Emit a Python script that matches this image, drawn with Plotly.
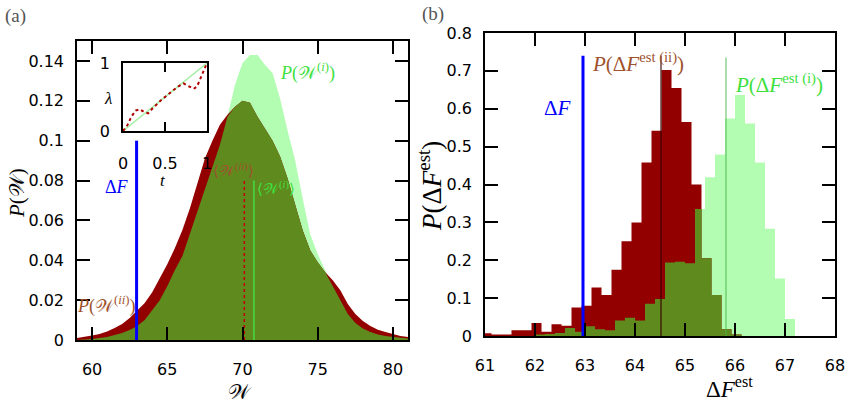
import numpy as np
import plotly.graph_objects as go

# ---------------- data, panel (a) ----------------
w_grid = [59.0, 59.5, 60.0, 60.5, 61.0, 61.5, 62.0, 62.5, 63.0, 63.5, 64.0, 64.5,
          65.0, 65.5, 66.0, 66.5, 67.0, 67.5, 68.0, 68.5, 69.0, 69.5, 70.0, 70.5,
          71.0, 71.5, 72.0, 72.5, 73.0, 73.5, 74.0, 74.5, 75.0, 75.5, 76.0, 76.5,
          77.0, 77.5, 78.0, 78.5, 79.0, 79.5, 80.0, 80.5, 81.0]
p_w_ii = [0.001, 0.0015, 0.0022, 0.003, 0.0043, 0.006, 0.008, 0.011, 0.015, 0.0185, 0.024, 0.031,
          0.038, 0.046, 0.055, 0.066, 0.078, 0.091, 0.100, 0.108, 0.113, 0.117, 0.120, 0.119,
          0.112, 0.106, 0.100, 0.092, 0.081, 0.068, 0.055, 0.045, 0.039, 0.034, 0.030, 0.025,
          0.018, 0.013, 0.0095, 0.007, 0.0052, 0.004, 0.003, 0.002, 0.0015]
p_w_i = [0.0, 0.0002, 0.0005, 0.001, 0.0015, 0.0025, 0.0035, 0.005, 0.007, 0.010, 0.015, 0.020,
         0.027, 0.035, 0.042, 0.053, 0.065, 0.075, 0.086, 0.098, 0.112, 0.128, 0.139, 0.143,
         0.143, 0.138, 0.134, 0.121, 0.105, 0.090, 0.071, 0.053, 0.043, 0.035, 0.027, 0.020,
         0.013, 0.0085, 0.0058, 0.004, 0.0028, 0.002, 0.0015, 0.001, 0.0007]

delta_f = 62.96
mean_w_ii, mean_w_i = 70.12, 70.76

# inset: protocols lambda(t)
t_lin = [0.0, 1.0]
lam_lin = [0.0, 1.0]
t_wig = [0.0, 0.05, 0.1, 0.15, 0.2, 0.25, 0.3, 0.35, 0.45, 0.55, 0.65, 0.72, 0.78, 0.84, 0.88, 0.93, 0.97, 1.0]
lam_wig = [0.0, 0.08, 0.21, 0.30, 0.32, 0.28, 0.26, 0.33, 0.45, 0.55, 0.65, 0.70, 0.66, 0.62, 0.65, 0.79, 0.92, 1.0]

# ---------------- data, panel (b) ----------------
red_left = [60.93, 61.13, 61.33, 61.53, 61.73, 61.93, 62.13, 62.33, 62.53, 62.73, 62.93, 63.13, 63.33,
            63.53, 63.73, 63.93, 64.13, 64.33, 64.53, 64.73, 64.93, 65.13, 65.33, 65.53, 65.73, 65.93]
red_h = [0.007, 0.004, 0.004, 0.015, 0.015, 0.034, 0.011, 0.031, 0.027, 0.075, 0.080, 0.128, 0.108,
         0.175, 0.250, 0.300, 0.458, 0.542, 0.702, 0.655, 0.565, 0.400, 0.205, 0.108, 0.018, 0.004]
green_left = [62.0, 62.2, 62.4, 62.6, 62.8, 63.0, 63.2, 63.4, 63.6, 63.8, 64.0, 64.2, 64.4,
              64.6, 64.8, 65.0, 65.2, 65.4, 65.6, 65.8, 66.0, 66.2, 66.4, 66.6, 66.8, 67.0]
green_h = [0.004, 0.005, 0.008, 0.021, 0.011, 0.026, 0.018, 0.015, 0.041, 0.048, 0.041, 0.085, 0.098,
           0.194, 0.196, 0.192, 0.335, 0.419, 0.479, 0.574, 0.636, 0.561, 0.458, 0.283, 0.152, 0.045]
bin_w = 0.2
mean_f_ii, mean_f_i = 64.52, 65.82

RED = "#930000"
OLIVE = "#5f8a1e"
LGREEN = "#b3fdb3"
BROWN = "#a0522d"
GTXT = "#3ee03e"
BLUE = "#0000ff"
W, H = 863, 404


def step_xy(left, h):
    x = list(left) + [left[-1] + bin_w]
    y = list(h) + [0.0]
    return x, y


def overlap_steps(l1, h1, l2, h2):
    # overlap of two step histograms with different bin edges
    edges = sorted(set([round(v, 3) for v in list(l1) + [l1[-1] + bin_w] + list(l2) + [l2[-1] + bin_w]]))

    def val(left, h, x):
        for a, v in zip(left, h):
            if a <= x < a + bin_w:
                return v
        return 0.0
    ys = []
    for a, b in zip(edges[:-1], edges[1:]):
        m = 0.5 * (a + b)
        ys.append(min(val(l1, h1, m), val(l2, h2, m)))
    return edges, ys + [0.0]


fig = go.Figure()

# panel (a)
fig.add_trace(go.Scatter(x=w_grid, y=p_w_i, fill="tozeroy", fillcolor=LGREEN, mode="lines",
                         line=dict(width=0), xaxis="x", yaxis="y"))
fig.add_trace(go.Scatter(x=w_grid, y=p_w_ii, fill="tozeroy", fillcolor=RED, mode="lines",
                         line=dict(width=0), xaxis="x", yaxis="y"))
fig.add_trace(go.Scatter(x=w_grid, y=np.minimum(p_w_i, p_w_ii), fill="tozeroy", fillcolor=OLIVE,
                         mode="lines", line=dict(width=0), xaxis="x", yaxis="y"))
fig.add_trace(go.Scatter(x=[delta_f, delta_f], y=[0, 0.1], mode="lines",
                         line=dict(color=BLUE, width=3), xaxis="x", yaxis="y"))
fig.add_trace(go.Scatter(x=[mean_w_ii, mean_w_ii], y=[0, 0.08], mode="lines",
                         line=dict(color="#c00000", width=1.5, dash="dot"), xaxis="x", yaxis="y"))
fig.add_trace(go.Scatter(x=[mean_w_i, mean_w_i], y=[0, 0.08], mode="lines",
                         line=dict(color="#44dd44", width=1.5), xaxis="x", yaxis="y"))

# inset
fig.add_trace(go.Scatter(x=t_lin, y=lam_lin, mode="lines", line=dict(color="#a8f0a8", width=1.5),
                         xaxis="x3", yaxis="y3"))
fig.add_trace(go.Scatter(x=t_wig, y=lam_wig, mode="lines", line=dict(color="#b00000", width=2, dash="dot"),
                         xaxis="x3", yaxis="y3"))

# panel (b)
gx, gy = step_xy(green_left, green_h)
rx, ry = step_xy(red_left, red_h)
ox, oy = overlap_steps(red_left, red_h, green_left, green_h)
fig.add_trace(go.Scatter(x=gx, y=gy, line_shape="hv", fill="tozeroy", fillcolor=LGREEN, mode="lines",
                         line=dict(width=0), xaxis="x2", yaxis="y2"))
fig.add_trace(go.Scatter(x=rx, y=ry, line_shape="hv", fill="tozeroy", fillcolor=RED, mode="lines",
                         line=dict(width=0), xaxis="x2", yaxis="y2"))
fig.add_trace(go.Scatter(x=ox, y=oy, line_shape="hv", fill="tozeroy", fillcolor=OLIVE, mode="lines",
                         line=dict(width=0), xaxis="x2", yaxis="y2"))
fig.add_trace(go.Scatter(x=[delta_f, delta_f], y=[0, 0.74], mode="lines",
                         line=dict(color=BLUE, width=3), xaxis="x2", yaxis="y2"))
fig.add_trace(go.Scatter(x=[mean_f_ii, mean_f_ii], y=[0, 0.74], mode="lines",
                         line=dict(color="rgba(50,0,0,0.85)", width=1.3), xaxis="x2", yaxis="y2"))
fig.add_trace(go.Scatter(x=[mean_f_i, mean_f_i], y=[0, 0.735], mode="lines",
                         line=dict(color="rgba(70,180,70,0.45)", width=2), xaxis="x2", yaxis="y2"))

tickfont = dict(family="DejaVu Sans", size=16, color="black")
ax = dict(showline=True, linecolor="black", linewidth=1.5, mirror="ticks", ticks="inside",
          ticklen=13, tickwidth=1.5, tickcolor="black", showgrid=False, zeroline=False,
          tickfont=tickfont, automargin=False)


def dom_x(a, b):
    return [a / W, b / W]


def dom_y(top, bottom):
    return [1 - bottom / H, 1 - top / H]


fig.update_layout(
    width=W, height=H, margin=dict(l=0, r=0, t=0, b=0, autoexpand=False),
    paper_bgcolor="white", plot_bgcolor="rgba(0,0,0,0)", showlegend=False,
    xaxis=dict(ax, domain=dom_x(77, 408), range=[59, 81], tickvals=[60, 65, 70, 75, 80],
               anchor="y", ticklabelstandoff=14),
    yaxis=dict(ax, domain=dom_y(41, 340), range=[0, 0.15],
               tickvals=[0, 0.02, 0.04, 0.06, 0.08, 0.1, 0.12, 0.14],
               ticktext=["0", "0.02", "0.04", "0.06", "0.08", "0.1", "0.12", "0.14"],
               anchor="x", ticklabelstandoff=8),
    xaxis2=dict(ax, domain=dom_x(485, 835), range=[61, 68], tickvals=[61, 62, 63, 64, 65, 66, 67, 68],
                anchor="y2", ticklabelstandoff=14),
    yaxis2=dict(ax, domain=dom_y(33, 336), range=[0, 0.8],
                tickvals=[0, 0.1, 0.2, 0.3, 0.4, 0.5, 0.6, 0.7, 0.8],
                ticktext=["0", "0.1", "0.2", "0.3", "0.4", "0.5", "0.6", "0.7", "0.8"],
                anchor="x2", ticklabelstandoff=8),
    xaxis3=dict(ax, domain=dom_x(123, 207), range=[0, 1], tickvals=[0, 0.5, 1], ticktext=["0", "0.5", "1"],
                ticklen=9, anchor="y3", ticklabelstandoff=17),
    yaxis3=dict(ax, domain=dom_y(63, 131), range=[0, 1], tickvals=[0, 1], ticktext=["0", "1"],
                ticks="", anchor="x3", ticklabelstandoff=8),
)

serif = "Liberation Serif"


def label(px, py, text, size=18, color="black", angle=0):
    fig.add_annotation(x=px / W, y=1 - py / H, xref="paper", yref="paper", text=text,
                       showarrow=False, xanchor="center", yanchor="middle", textangle=angle,
                       font=dict(family=serif, size=size, color=color))


label(15, 16, "(a)", 19, "#555555")
label(433, 14, "(b)", 19, "#555555")
label(17, 193, "<i>P</i>(𝒲)", 21, angle=-90)
label(240, 392, "𝒲", 21)
label(430, 186, "<i>P</i>(Δ<i>F</i><sup>est</sup>)", 27, angle=-90)
label(729, 387, "Δ<i>F</i><sup>est</sup>", 23)
label(108, 98, "<i>λ</i>", 17)
label(163, 181, "<i>t</i>", 17)
label(117, 187, "Δ<i>F</i>", 18, BLUE)
label(106, 305, "<i>P</i>(𝒲<sup>(<i>ii</i>)</sup>)", 18, BROWN)
label(307, 72, "<i>P</i>(𝒲<sup>(<i>i</i>)</sup>)", 18, GTXT)
label(233, 170, "⟨𝒲<sup>(<i>ii</i>)</sup>⟩", 15, BROWN)
label(276, 188, "⟨𝒲<sup>(<i>i</i>)</sup>⟩", 15, GTXT)
label(557, 108, "Δ<i>F</i>", 21, BLUE)
label(638, 62, "<i>P</i>(Δ<i>F</i><sup>est (ii)</sup>)", 21, BROWN)
label(779, 84, "<i>P</i>(Δ<i>F</i><sup>est (i)</sup>)", 21, GTXT)

# the page body has a default margin; remove it so the figure sits at the window's corner
fig.write_html("out.html", config={"displayModeBar": False},
               post_script="document.body.style.margin='0';")
